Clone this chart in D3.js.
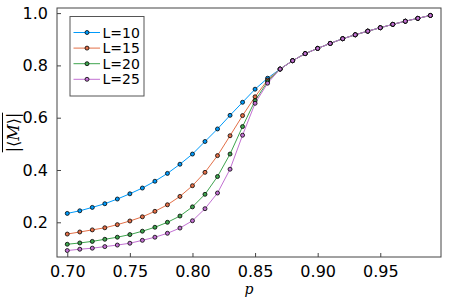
<!DOCTYPE html>
<html>
<head>
<meta charset="utf-8">
<script src="https://cdn.jsdelivr.net/npm/d3@7"></script>
<style>
  body { margin: 0; background: #fff; }
  svg { display: block; font-family: "DejaVu Sans", sans-serif; }
</style>
</head>
<body>
<svg id="chart" width="450" height="300"></svg>
<script>
// p values 0.70 .. 0.99
const pValues = [0.70, 0.71, 0.72, 0.73, 0.74, 0.75, 0.76, 0.77, 0.78, 0.79,
  0.80, 0.81, 0.82, 0.83, 0.84, 0.85, 0.86, 0.87, 0.88, 0.89,
  0.90, 0.91, 0.92, 0.93, 0.94, 0.95, 0.96, 0.97, 0.98, 0.99];

// shared tail above the crossing (p >= 0.87)
const tail = [0.786, 0.818, 0.845, 0.865, 0.884, 0.902, 0.917, 0.931, 0.944, 0.957, 0.969, 0.980, 0.991];

const mL10 = [0.234, 0.244, 0.257, 0.271, 0.289, 0.309, 0.331, 0.357, 0.387, 0.422,
  0.461, 0.509, 0.557, 0.609, 0.659, 0.709, 0.751, ...tail];
const mL15 = [0.155, 0.163, 0.171, 0.179, 0.191, 0.205, 0.221, 0.242, 0.267, 0.299,
  0.340, 0.391, 0.455, 0.531, 0.608, 0.680, 0.744, ...tail];
const mL20 = [0.116, 0.121, 0.127, 0.135, 0.143, 0.153, 0.166, 0.181, 0.200, 0.224,
  0.259, 0.307, 0.375, 0.461, 0.566, 0.665, 0.738, ...tail];
const mL25 = [0.092, 0.097, 0.101, 0.107, 0.113, 0.120, 0.131, 0.143, 0.158, 0.178,
  0.206, 0.252, 0.312, 0.403, 0.533, 0.655, 0.732, ...tail];

const seriesNames = ['L=10', 'L=15', 'L=20', 'L=25'];
const seriesValues = [mL10, mL15, mL20, mL25];
const colors = ['#009AFA', '#E36F47', '#3EA44E', '#C271D2'];

const xTicks = [0.70, 0.75, 0.80, 0.85, 0.90, 0.95];
const yTicks = [0.2, 0.4, 0.6, 0.8, 1.0];

const margin = { top: 8, right: 9, bottom: 43, left: 57 };
const width = 450, height = 300;

const svg = d3.select('#chart');

const x = d3.scaleLinear()
  .domain([0.6918, 0.9985])
  .range([margin.left, width - margin.right]);

const y = d3.scaleLinear()
  .domain([0.0673, 1.0195])
  .range([height - margin.bottom, margin.top]);

// Series lines + markers
seriesValues.forEach((vals, i) => {
  const pts = pValues.map((p, j) => ({ p, v: vals[j] }));
  svg.append('path')
    .datum(pts)
    .attr('fill', 'none')
    .attr('stroke', colors[i])
    .attr('stroke-width', 1)
    .attr('d', d3.line().x(d => x(d.p)).y(d => y(d.v)));
});

seriesValues.forEach((vals, i) => {
  svg.append('g')
    .selectAll('circle')
    .data(pValues.map((p, j) => ({ p, v: vals[j] })))
    .enter()
    .append('circle')
    .attr('cx', d => x(d.p))
    .attr('cy', d => y(d.v))
    .attr('r', 2)
    .attr('fill', colors[i])
    .attr('stroke', '#000')
    .attr('stroke-width', 0.8);
});

// Frame
svg.append('rect')
  .attr('x', margin.left)
  .attr('y', margin.top)
  .attr('width', width - margin.left - margin.right)
  .attr('height', height - margin.top - margin.bottom)
  .attr('fill', 'none')
  .attr('stroke', '#444')
  .attr('stroke-width', 1);

// X axis (ticks inside)
const xAxis = svg.append('g')
  .attr('transform', `translate(0,${height - margin.bottom})`)
  .call(d3.axisBottom(x).tickValues(xTicks).tickSize(-4).tickPadding(8.5).tickFormat(d3.format('.2f')));
xAxis.select('.domain').remove();
xAxis.selectAll('line').attr('stroke', '#444');
xAxis.selectAll('text')
  .attr('font-size', 16)
  .attr('fill', '#000')
  .attr('font-family', '"DejaVu Sans", sans-serif');

// Y axis (ticks inside)
const yAxis = svg.append('g')
  .attr('transform', `translate(${margin.left},0)`)
  .call(d3.axisLeft(y).tickValues(yTicks).tickSize(-4).tickPadding(9).tickFormat(d3.format('.1f')));
yAxis.select('.domain').remove();
yAxis.selectAll('line').attr('stroke', '#444');
yAxis.selectAll('text')
  .attr('font-size', 16)
  .attr('fill', '#000')
  .attr('font-family', '"DejaVu Sans", sans-serif');

// X label
svg.append('text')
  .attr('x', (margin.left + width - margin.right) / 2)
  .attr('y', 294)
  .attr('text-anchor', 'middle')
  .attr('font-family', '"DejaVu Serif", serif')
  .attr('font-style', 'italic')
  .attr('font-size', 14)
  .text('p');

// Y label: overline |<M>|
const yMid = (margin.top + height - margin.bottom) / 2;
const yl = svg.append('g').attr('transform', `translate(19,${yMid}) rotate(-90)`);
const ylText = yl.append('text')
  .attr('text-anchor', 'middle')
  .attr('font-family', '"DejaVu Serif", serif')
  .attr('font-size', 16);
ylText.append('tspan').attr('font-style', 'normal').text('|⟨');
ylText.append('tspan').attr('font-style', 'italic').text('M');
ylText.append('tspan').attr('font-style', 'normal').text('⟩|');
const ylw = ylText.node().getComputedTextLength();
yl.append('line')
  .attr('x1', -ylw / 2).attr('x2', ylw / 2)
  .attr('y1', -16.5).attr('y2', -16.5)
  .attr('stroke', '#000')
  .attr('stroke-width', 1);

// Legend
const legend = svg.append('g');
legend.append('rect')
  .attr('x', 70).attr('y', 16.5)
  .attr('width', 74).attr('height', 79.5)
  .attr('fill', '#fff')
  .attr('stroke', '#555')
  .attr('stroke-width', 1);

seriesNames.forEach((name, i) => {
  const ry = 32.5 + i * 15.6;
  legend.append('line')
    .attr('x1', 73.5).attr('x2', 100)
    .attr('y1', ry).attr('y2', ry)
    .attr('stroke', colors[i])
    .attr('stroke-width', 1);
  legend.append('circle')
    .attr('cx', 87).attr('cy', ry)
    .attr('r', 2)
    .attr('fill', colors[i])
    .attr('stroke', '#000')
    .attr('stroke-width', 0.8);
  legend.append('text')
    .attr('x', 102.5).attr('y', ry)
    .attr('dy', '0.36em')
    .attr('font-size', 14)
    .attr('fill', '#000')
    .text(name);
});
</script>
</body>
</html>
